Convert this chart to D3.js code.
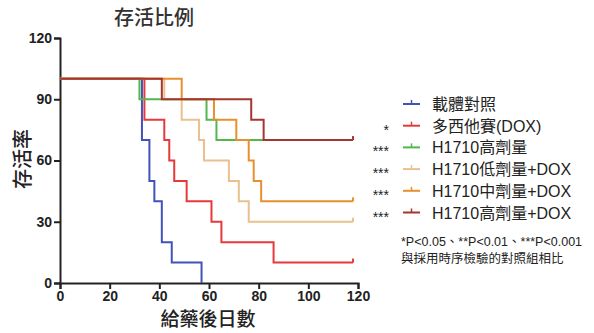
<!DOCTYPE html>
<html>
<head>
<meta charset="utf-8">
<script src="https://cdn.jsdelivr.net/npm/d3@7"></script>
<style>
  body { margin: 0; background: #fff; }
  text { font-family: "Liberation Sans", Arial, "Noto Sans CJK TC", sans-serif; }
</style>
</head>
<body>
<div id="chart"></div>
<script>
// Kaplan-Meier step data: [day, survival%] at each drop
const groups = ['載體對照', '多西他賽(DOX)', 'H1710高劑量', 'H1710低劑量+DOX', 'H1710中劑量+DOX', 'H1710高劑量+DOX'];
const colors = ['#4152b8', '#e8393a', '#52b84e', '#e9c08e', '#e8902e', '#a5352f'];
const stars = ['', '*', '***', '***', '***', '***'];
const vehicle = [[0, 100], [33, 70], [36, 50], [38, 40], [41, 20], [45, 10], [57, 0]];
const dox = [[0, 100], [34, 80], [42, 70], [44, 60], [46, 50], [51, 40], [61, 30], [65, 20], [86, 10], [118, 10]];
const highDose = [[0, 100], [32, 90], [59, 80], [63, 70], [118, 70]];
const lowDox = [[0, 100], [42, 90], [49, 80], [56, 70], [58, 60], [68, 50], [72, 40], [76, 30], [118, 30]];
const midDox = [[0, 100], [49, 90], [62, 80], [71, 70], [76, 60], [78, 50], [81, 40], [118, 40]];
const highDox = [[0, 100], [41, 90], [77, 80], [82, 70], [118, 70]];
const series = [vehicle, dox, highDose, lowDox, midDox, highDox];
const censored = [false, true, false, true, true, true];
const xTicks = [0, 20, 40, 60, 80, 100, 120];
const yTicks = [0, 30, 60, 90, 120];

const width = 594, height = 333;
const cjk = '"Noto Sans CJK TC", sans-serif';
const svg = d3.select('#chart').append('svg')
  .attr('width', width).attr('height', height);

const x = d3.scaleLinear().domain([0, 120]).range([60, 358]);
const y = d3.scaleLinear().domain([0, 120]).range([283, 38]);

// axes
const xAxis = svg.append('g').attr('transform', `translate(0,${y(0)})`)
  .call(d3.axisBottom(x).tickValues(xTicks).tickSize(6).tickPadding(2));
const yAxis = svg.append('g').attr('transform', `translate(${x(0)},0)`)
  .call(d3.axisLeft(y).tickValues(yTicks).tickSize(6).tickPadding(2));
[xAxis, yAxis].forEach(g => {
  g.select('.domain').attr('stroke', '#222').attr('stroke-width', 2);
  g.selectAll('.tick line').attr('stroke', '#222').attr('stroke-width', 2);
  g.selectAll('.tick text').attr('fill', '#222').style('font-size', '14px').style('font-weight', 'bold');
});

// curves
const line = d3.line().x(d => x(d[0])).y(d => y(d[1])).curve(d3.curveStepAfter);
series.forEach((s, i) => {
  svg.append('path').datum(s)
    .attr('d', line)
    .attr('fill', 'none')
    .attr('stroke', colors[i])
    .attr('stroke-width', 2);
  if (censored[i]) {
    const last = s[s.length - 1];
    svg.append('line')
      .attr('x1', x(last[0])).attr('x2', x(last[0]))
      .attr('y1', y(last[1])).attr('y2', y(last[1]) - 4)
      .attr('stroke', colors[i]).attr('stroke-width', 2);
  }
});

// titles
svg.append('text').attr('x', 154).attr('y', 25).attr('text-anchor', 'middle')
  .style('font-size', '20px').style('font-weight', '500').attr('fill', '#333')
  .style('font-family', cjk).text('存活比例');
svg.append('text').attr('x', 208).attr('y', 326).attr('text-anchor', 'middle')
  .style('font-size', '19px').style('font-weight', '500').attr('fill', '#222')
  .style('font-family', cjk).text('給藥後日數');
svg.append('text').attr('transform', 'translate(30,159) rotate(-90)').attr('text-anchor', 'middle')
  .style('font-size', '20px').style('font-weight', '500').attr('fill', '#222')
  .style('font-family', cjk).text('存活率');

// legend
const legend = svg.append('g');
groups.forEach((g, i) => {
  const yy = 104 + i * 21.7;
  const row = legend.append('g').attr('transform', `translate(0,${yy})`);
  row.append('line').attr('x1', 403).attr('x2', 420).attr('y1', 0).attr('y2', 0)
    .attr('stroke', colors[i]).attr('stroke-width', 2);
  row.append('line').attr('x1', 411.5).attr('x2', 411.5).attr('y1', 0).attr('y2', -4)
    .attr('stroke', colors[i]).attr('stroke-width', 1.5);
  row.append('text').attr('x', 432).attr('y', 6).style('font-size', '16px').attr('fill', '#222')
    .text(g);
  row.append('text').attr('x', 389).attr('y', 9).attr('text-anchor', 'end')
    .style('font-size', '14px').attr('fill', '#222').text(stars[i]);
});

svg.append('text').attr('x', 401).attr('y', 246).style('font-size', '12.5px').attr('fill', '#222')
  .text('*P<0.05、**P<0.01、***P<0.001');
svg.append('text').attr('x', 401).attr('y', 263).style('font-size', '12.5px').attr('fill', '#222')
  .style('font-family', cjk).text('與採用時序檢驗的對照組相比');
</script>
</body>
</html>
